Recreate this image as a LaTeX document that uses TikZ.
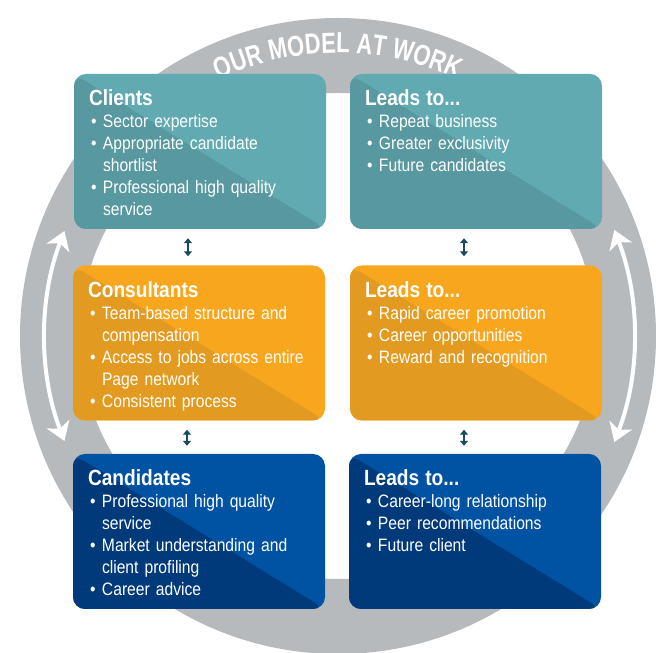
\documentclass[tikz,border=0pt]{standalone}
\usepackage{fontspec}
\setmainfont{Liberation Sans}[FakeStretch=0.87, WordSpace=0.8]
\newfontfamily\titlefont{Liberation Sans}[FakeStretch=0.76]
\usetikzlibrary{arrows.meta,decorations.text,positioning}
\definecolor{ring-grey}{RGB}{182,186,189}
\definecolor{teal-light}{RGB}{98,170,178}
\definecolor{teal-dark}{RGB}{88,152,160}
\definecolor{orange-light}{RGB}{248,166,30}
\definecolor{orange-dark}{RGB}{226,154,32}
\definecolor{blue-light}{RGB}{0,82,162}
\definecolor{blue-dark}{RGB}{0,58,122}
\definecolor{link-navy}{RGB}{24,76,98}
\tikzset{split/.style={path picture={\fill[#1] (path picture bounding box.north west) -- (path picture bounding box.south east) -- (path picture bounding box.south west) -- cycle;}}}
\tikzstyle{card}=[rectangle, rounded corners=12pt, minimum width=252pt, minimum height=155pt, inner sep=0pt]
\tikzstyle{teal-card}=[card, fill=teal-light, split=teal-dark]
\tikzstyle{orange-card}=[card, fill=orange-light, split=orange-dark]
\tikzstyle{blue-card}=[card, fill=blue-light, split=blue-dark]
\tikzstyle{card-text}=[anchor=north west, text width=236pt, inner sep=0pt, text=white, font=\fontsize{18}{22}\selectfont]
\tikzstyle{link}=[link-navy, line width=2.5pt, {Triangle[width=8pt,length=5pt]}-{Triangle[width=8pt,length=5pt]}]
\tikzstyle{cycle-arrow}=[white, line width=4pt, {Stealth[length=18pt,width=24pt,inset=5pt]}-{Stealth[length=18pt,width=24pt,inset=5pt]}]
\newcommand{\cardhead}[1]{{\fontsize{22}{24}\selectfont\bfseries #1\par}}
\newcommand{\bul}{\par\raggedright\hangindent=14pt\hangafter=1\noindent\makebox[14pt][l]{\hspace{2pt}\textbullet}}

\begin{document}
\begin{tikzpicture}[x=1pt, y=1pt]
	\clip (0,0) rectangle (656,653);
	\coordinate (hub) at (338,317);
	% grey ring behind the cards
	\fill[ring-grey, even odd rule] (hub) circle (318pt) (hub) ellipse (258pt and 243pt);
	\path[decorate, decoration={text along path, text align=center, text={|\titlefont\bfseries\fontsize{29}{29}\selectfont\color{white}|OUR MODEL AT WORK}}]
		(hub) ++(129:283pt) arc[start angle=129, end angle=51, radius=283pt];
	\draw[cycle-arrow] (hub) ++(159:293pt) arc[start angle=159, end angle=201, radius=293pt];
	\draw[cycle-arrow] (hub) ++(21:296pt) arc[start angle=21, end angle=-21, radius=296pt];

	\node[teal-card] (clients) at (200,501.5) {};
	\node[teal-card] (leads-a) at (476,501.5) {};
	\node[orange-card] (consultants) at (199,310) {};
	\node[orange-card] (leads-b) at (476,310) {};
	\node[blue-card] (candidates) at (199,121.5) {};
	\node[blue-card] (leads-c) at (475,121.5) {};

	\node[card-text] (clients-text) at ([xshift=15pt,yshift=-16pt]clients.north west)
		{\cardhead{Clients}\bul Sector expertise\bul Appropriate candidate\newline shortlist\bul Professional high quality\newline service\par};
	\node[card-text] (leads-a-text) at ([xshift=15pt,yshift=-16pt]leads-a.north west)
		{\cardhead{Leads to...}\bul Repeat business\bul Greater exclusivity\bul Future candidates\par};
	\node[card-text] (consultants-text) at ([xshift=15pt,yshift=-16pt]consultants.north west)
		{\cardhead{Consultants}\bul Team-based structure and\newline compensation\bul Access to jobs across entire\newline Page network\bul Consistent process\par};
	\node[card-text] (leads-b-text) at ([xshift=15pt,yshift=-16pt]leads-b.north west)
		{\cardhead{Leads to...}\bul Rapid career promotion\bul Career opportunities\bul Reward and recognition\par};
	\node[card-text] (candidates-text) at ([xshift=15pt,yshift=-16pt]candidates.north west)
		{\cardhead{Candidates}\bul Professional high quality\newline service\bul Market understanding and\newline client profiling\bul Career advice\par};
	\node[card-text] (leads-c-text) at ([xshift=15pt,yshift=-16pt]leads-c.north west)
		{\cardhead{Leads to...}\bul Career-long relationship\bul Peer recommendations\bul Future client\par};

	\draw[link] ([xshift=-12pt,yshift=-9pt]clients.south) -- ([xshift=-12pt,yshift=9pt]consultants.north -| clients.south);
	\draw[link] ([xshift=-12pt,yshift=-9pt]consultants.south) -- ([xshift=-12pt,yshift=8pt]candidates.north);
	\draw[link] ([xshift=-12pt,yshift=-9pt]leads-a.south) -- ([xshift=-12pt,yshift=9pt]leads-b.north);
	\draw[link] ([xshift=-12pt,yshift=-9pt]leads-b.south) -- ([xshift=-12pt,yshift=8pt]leads-c.north -| leads-b.south);
\end{tikzpicture}
\end{document}
